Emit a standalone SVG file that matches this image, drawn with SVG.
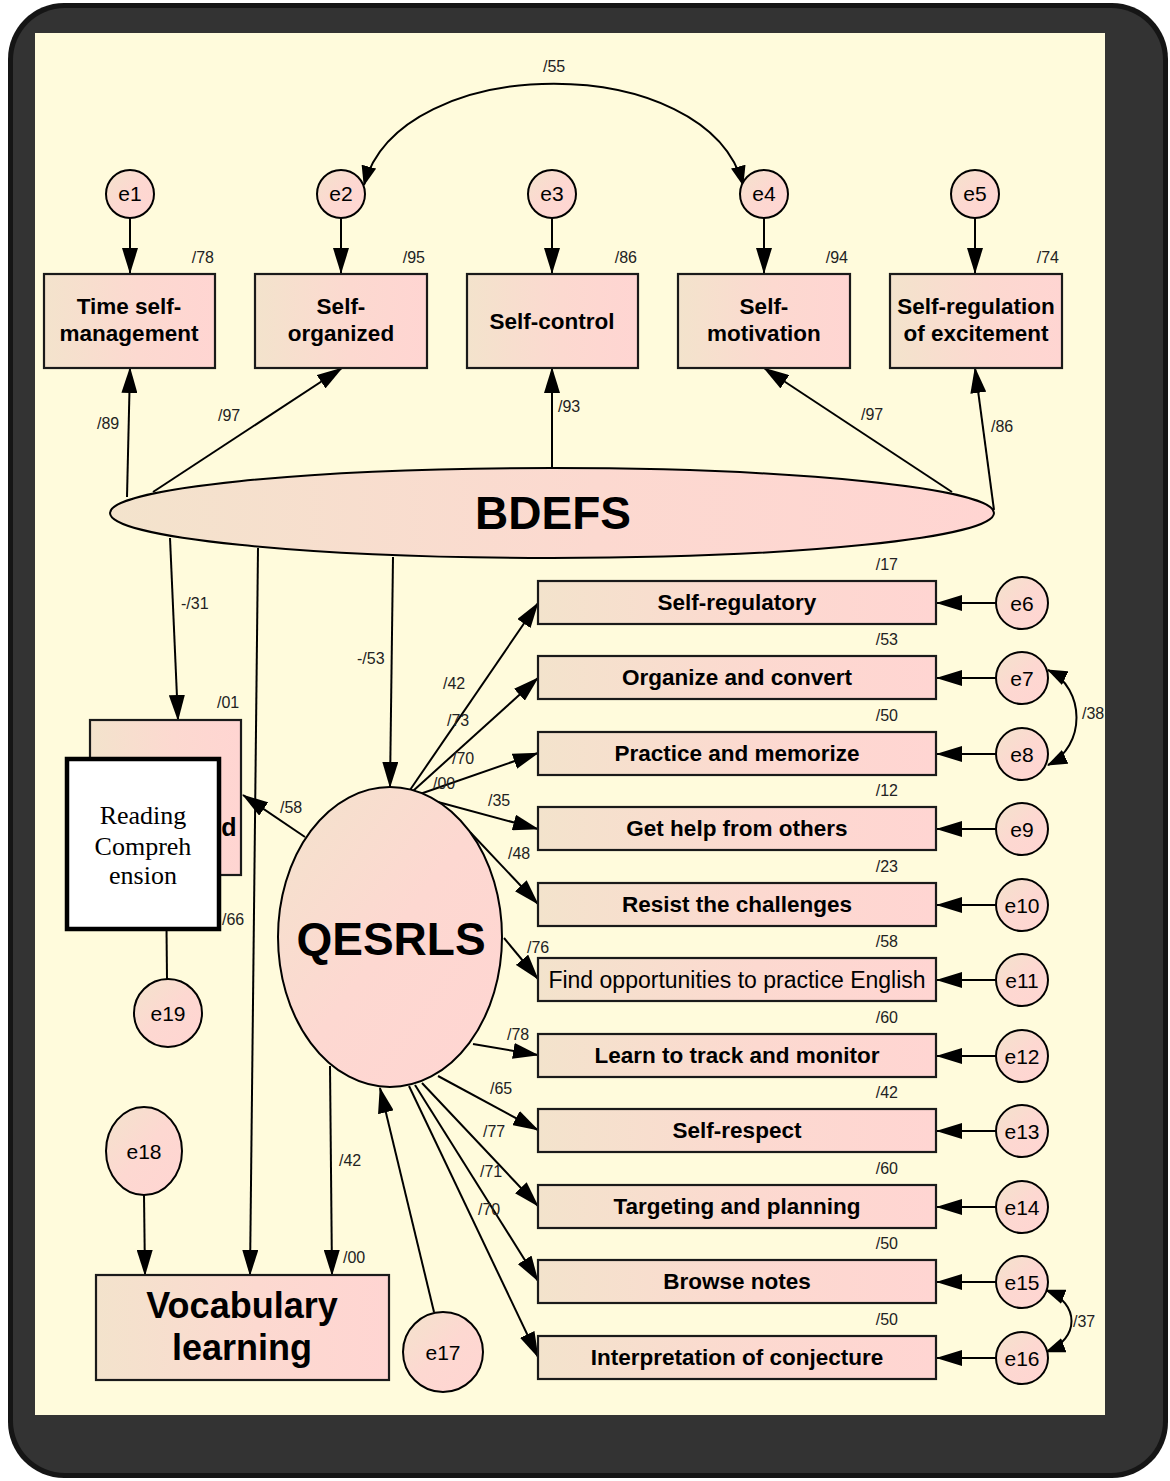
<svg xmlns="http://www.w3.org/2000/svg" width="1170" height="1481" viewBox="0 0 1170 1481">
<defs>
<style>
.ln{stroke:#000;stroke-width:2;fill:none}
.bx{fill:url(#gb);stroke:#1a1a1a;stroke-width:2.2}
.el{fill:url(#gd);stroke:#000;stroke-width:2}
.bt{font-family:"Liberation Sans",Arial,sans-serif;font-weight:bold;font-size:22.5px;fill:#000;text-anchor:middle}
.rt{font-family:"Liberation Sans",Arial,sans-serif;font-size:23px;fill:#000;text-anchor:middle}
.et{font-family:"Liberation Sans",Arial,sans-serif;font-size:21px;fill:#000;text-anchor:middle}
.lb{font-family:"Liberation Sans",Arial,sans-serif;font-size:16px;fill:#222}
.lr{font-family:"Liberation Sans",Arial,sans-serif;font-size:16px;fill:#222;text-anchor:end}
.big{font-family:"Liberation Sans",Arial,sans-serif;font-weight:bold;font-size:46px;fill:#000;text-anchor:middle}
</style>
<linearGradient id="gb" x1="0" y1="0" x2="1" y2="0">
<stop offset="0" stop-color="#f3e3cc"/><stop offset="0.55" stop-color="#fcd9d0"/><stop offset="1" stop-color="#ffd5d2"/>
</linearGradient>
<linearGradient id="gd" x1="0" y1="0" x2="1" y2="1">
<stop offset="0" stop-color="#f3e3cc"/><stop offset="0.5" stop-color="#fdd8d1"/><stop offset="1" stop-color="#ffd5d2"/>
</linearGradient>
<marker id="arr" viewBox="0 0 26 16" refX="25" refY="8" markerWidth="26" markerHeight="16" markerUnits="userSpaceOnUse" orient="auto">
<path d="M0,0 L26,8 L0,16 z" fill="#000"/>
</marker>
<marker id="arrs" viewBox="0 0 20 15" refX="19" refY="7.5" markerWidth="20" markerHeight="15" markerUnits="userSpaceOnUse" orient="auto-start-reverse">
<path d="M0,0 L20,7.5 L0,15 z" fill="#000"/>
</marker>
</defs>

<g id="frame">
<rect x="8" y="3" width="1160" height="1475" rx="56" fill="#151515"/>
<rect x="13" y="8" width="1150" height="1465" rx="52" fill="#333"/>
<rect x="35" y="33" width="1070" height="1382" fill="#fffbdc"/>
</g>

<g id="connectors">
<line class="ln" x1="130" y1="218" x2="130" y2="273" marker-end="url(#arr)"/>
<line class="ln" x1="341" y1="218" x2="341" y2="273" marker-end="url(#arr)"/>
<line class="ln" x1="552" y1="218" x2="552" y2="273" marker-end="url(#arr)"/>
<line class="ln" x1="764" y1="218" x2="764" y2="273" marker-end="url(#arr)"/>
<line class="ln" x1="975" y1="218" x2="975" y2="273" marker-end="url(#arr)"/>
<path class="ln" d="M364,185 C400,50 708,50 743,185" marker-start="url(#arrs)" marker-end="url(#arrs)"/>
<line class="ln" x1="127" y1="497" x2="130" y2="368" marker-end="url(#arr)"/>
<line class="ln" x1="153" y1="492" x2="342" y2="368" marker-end="url(#arr)"/>
<line class="ln" x1="552" y1="468" x2="552" y2="368" marker-end="url(#arr)"/>
<line class="ln" x1="952" y1="492" x2="764" y2="368" marker-end="url(#arr)"/>
<line class="ln" x1="994" y1="510" x2="975" y2="368" marker-end="url(#arr)"/>
<line class="ln" x1="170" y1="538" x2="178" y2="720" marker-end="url(#arr)"/>
<line class="ln" x1="258" y1="548" x2="250" y2="1275" marker-end="url(#arr)"/>
<line class="ln" x1="393" y1="557" x2="390" y2="787" marker-end="url(#arr)"/>
<line class="ln" x1="305" y1="837" x2="243" y2="795" marker-end="url(#arr)"/>
<line class="ln" x1="330" y1="1066" x2="332" y2="1275" marker-end="url(#arr)"/>
<line class="ln" x1="167" y1="979" x2="166" y2="876" marker-end="url(#arr)"/>
<line class="ln" x1="144" y1="1195" x2="145" y2="1275" marker-end="url(#arr)"/>
<line class="ln" x1="434" y1="1312" x2="380" y2="1088" marker-end="url(#arr)"/>
<line class="ln" x1="410" y1="790" x2="538" y2="603" marker-end="url(#arr)"/>
<line class="ln" x1="413" y1="791" x2="538" y2="678" marker-end="url(#arr)"/>
<line class="ln" x1="420" y1="794" x2="538" y2="753" marker-end="url(#arr)"/>
<line class="ln" x1="438" y1="802" x2="538" y2="829" marker-end="url(#arr)"/>
<line class="ln" x1="470" y1="832" x2="538" y2="904" marker-end="url(#arr)"/>
<line class="ln" x1="504" y1="938" x2="538" y2="979" marker-end="url(#arr)"/>
<line class="ln" x1="473" y1="1044" x2="538" y2="1055" marker-end="url(#arr)"/>
<line class="ln" x1="438" y1="1076" x2="538" y2="1130" marker-end="url(#arr)"/>
<line class="ln" x1="422" y1="1083" x2="538" y2="1206" marker-end="url(#arr)"/>
<line class="ln" x1="415" y1="1085" x2="538" y2="1281" marker-end="url(#arr)"/>
<line class="ln" x1="409" y1="1086" x2="538" y2="1357" marker-end="url(#arr)"/>
<line class="ln" x1="996" y1="603" x2="937" y2="603" marker-end="url(#arr)"/>
<line class="ln" x1="996" y1="678" x2="937" y2="678" marker-end="url(#arr)"/>
<line class="ln" x1="996" y1="754" x2="937" y2="754" marker-end="url(#arr)"/>
<line class="ln" x1="996" y1="829" x2="937" y2="829" marker-end="url(#arr)"/>
<line class="ln" x1="996" y1="905" x2="937" y2="905" marker-end="url(#arr)"/>
<line class="ln" x1="996" y1="980" x2="937" y2="980" marker-end="url(#arr)"/>
<line class="ln" x1="996" y1="1056" x2="937" y2="1056" marker-end="url(#arr)"/>
<line class="ln" x1="996" y1="1131" x2="937" y2="1131" marker-end="url(#arr)"/>
<line class="ln" x1="996" y1="1207" x2="937" y2="1207" marker-end="url(#arr)"/>
<line class="ln" x1="996" y1="1282" x2="937" y2="1282" marker-end="url(#arr)"/>
<line class="ln" x1="996" y1="1358" x2="937" y2="1358" marker-end="url(#arr)"/>
<path class="ln" d="M1048,670 C1086,688 1086,747 1048,765" marker-start="url(#arrs)" marker-end="url(#arrs)"/>
<path class="ln" d="M1046,1290 C1080,1303 1080,1339 1046,1352" marker-start="url(#arrs)" marker-end="url(#arrs)"/>
</g>

<g id="labels">
<text class="lb" x="543" y="72">/55</text>
<text class="lr" x="214" y="263">/78</text>
<text class="lr" x="425" y="263">/95</text>
<text class="lr" x="637" y="263">/86</text>
<text class="lr" x="848" y="263">/94</text>
<text class="lr" x="1059" y="263">/74</text>
<text class="lb" x="97" y="429">/89</text>
<text class="lb" x="218" y="421">/97</text>
<text class="lb" x="558" y="412">/93</text>
<text class="lb" x="861" y="420">/97</text>
<text class="lb" x="991" y="432">/86</text>
<text class="lb" x="181" y="609">-/31</text>
<text class="lb" x="357" y="664">-/53</text>
<text class="lb" x="217" y="708">/01</text>
<text class="lb" x="280" y="813">/58</text>
<text class="lb" x="222" y="925">/66</text>
<text class="lb" x="339" y="1166">/42</text>
<text class="lb" x="343" y="1263">/00</text>
<text class="lb" x="443" y="689">/42</text>
<text class="lb" x="447" y="726">/73</text>
<text class="lb" x="452" y="764">/70</text>
<text class="lb" x="433" y="789">/00</text>
<text class="lb" x="488" y="806">/35</text>
<text class="lb" x="508" y="859">/48</text>
<text class="lb" x="527" y="953">/76</text>
<text class="lb" x="507" y="1040">/78</text>
<text class="lb" x="490" y="1094">/65</text>
<text class="lb" x="483" y="1137">/77</text>
<text class="lb" x="480" y="1177">/71</text>
<text class="lb" x="478" y="1215">/70</text>
<text class="lr" x="898" y="570">/17</text>
<text class="lr" x="898" y="645">/53</text>
<text class="lr" x="898" y="721">/50</text>
<text class="lr" x="898" y="796">/12</text>
<text class="lr" x="898" y="872">/23</text>
<text class="lr" x="898" y="947">/58</text>
<text class="lr" x="898" y="1023">/60</text>
<text class="lr" x="898" y="1098">/42</text>
<text class="lr" x="898" y="1174">/60</text>
<text class="lr" x="898" y="1249">/50</text>
<text class="lr" x="898" y="1325">/50</text>
<text class="lb" x="1082" y="719">/38</text>
<text class="lb" x="1073" y="1327">/37</text>
</g>

<g id="e1"><circle class="el" cx="130" cy="194" r="24"/><text class="et" x="130" y="201">e1</text></g>
<g id="e2"><circle class="el" cx="341" cy="194" r="24"/><text class="et" x="341" y="201">e2</text></g>
<g id="e3"><circle class="el" cx="552" cy="194" r="24"/><text class="et" x="552" y="201">e3</text></g>
<g id="e4"><circle class="el" cx="764" cy="194" r="24"/><text class="et" x="764" y="201">e4</text></g>
<g id="e5"><circle class="el" cx="975" cy="194" r="24"/><text class="et" x="975" y="201">e5</text></g>

<g id="time-self-management"><rect class="bx" x="44" y="274" width="171" height="94"/><text class="bt" x="129" y="314">Time self-</text><text class="bt" x="129" y="341">management</text></g>
<g id="self-organized"><rect class="bx" x="255" y="274" width="172" height="94"/><text class="bt" x="341" y="314">Self-</text><text class="bt" x="341" y="341">organized</text></g>
<g id="self-control"><rect class="bx" x="467" y="274" width="171" height="94"/><text class="bt" x="552" y="329">Self-control</text></g>
<g id="self-motivation"><rect class="bx" x="678" y="274" width="172" height="94"/><text class="bt" x="764" y="314">Self-</text><text class="bt" x="764" y="341">motivation</text></g>
<g id="self-regulation-excitement"><rect class="bx" x="890" y="274" width="172" height="94"/><text class="bt" x="976" y="314">Self-regulation</text><text class="bt" x="976" y="341">of excitement</text></g>

<g id="bdefs"><ellipse class="el" cx="552" cy="513" rx="442" ry="45" style="fill:url(#gb)"/><text class="big" x="553" y="529">BDEFS</text></g>

<g id="reading-hidden"><rect class="bx" x="90" y="720" width="151" height="155"/><text class="bt" x="229" y="836" style="font-size:25px">d</text></g>
<g id="reading-comprehension"><rect x="67" y="759" width="152" height="170" fill="#fff" stroke="#000" stroke-width="4.5"/>
<text x="143" y="824" style="font-family:'Liberation Serif','Times New Roman',serif;font-size:26px;text-anchor:middle">Reading</text>
<text x="143" y="855" style="font-family:'Liberation Serif','Times New Roman',serif;font-size:26px;text-anchor:middle">Compreh</text>
<text x="143" y="884" style="font-family:'Liberation Serif','Times New Roman',serif;font-size:26px;text-anchor:middle">ension</text></g>

<g id="e19"><circle class="el" cx="168" cy="1013" r="34"/><text class="et" x="168" y="1021">e19</text></g>

<g id="qesrls"><ellipse class="el" cx="390" cy="937" rx="112" ry="150"/><text class="big" x="391" y="955">QESRLS</text></g>

<g id="self-regulatory"><rect class="bx" x="538" y="581" width="398" height="43"/><text class="bt" x="737" y="610">Self-regulatory</text></g>
<g id="organize-convert"><rect class="bx" x="538" y="656" width="398" height="43"/><text class="bt" x="737" y="685">Organize and convert</text></g>
<g id="practice-memorize"><rect class="bx" x="538" y="732" width="398" height="43"/><text class="bt" x="737" y="761">Practice and memorize</text></g>
<g id="get-help"><rect class="bx" x="538" y="807" width="398" height="43"/><text class="bt" x="737" y="836">Get help from others</text></g>
<g id="resist"><rect class="bx" x="538" y="883" width="398" height="43"/><text class="bt" x="737" y="912">Resist the challenges</text></g>
<g id="find-opportunities"><rect class="bx" x="538" y="958" width="398" height="43"/><text class="rt" x="737" y="988">Find opportunities to practice English</text></g>
<g id="track-monitor"><rect class="bx" x="538" y="1034" width="398" height="43"/><text class="bt" x="737" y="1063">Learn to track and monitor</text></g>
<g id="self-respect"><rect class="bx" x="538" y="1109" width="398" height="43"/><text class="bt" x="737" y="1138">Self-respect</text></g>
<g id="targeting"><rect class="bx" x="538" y="1185" width="398" height="43"/><text class="bt" x="737" y="1214">Targeting and planning</text></g>
<g id="browse-notes"><rect class="bx" x="538" y="1260" width="398" height="43"/><text class="bt" x="737" y="1289">Browse notes</text></g>
<g id="interpretation"><rect class="bx" x="538" y="1336" width="398" height="43"/><text class="bt" x="737" y="1365">Interpretation of conjecture</text></g>

<g id="e6"><circle class="el" cx="1022" cy="603" r="26"/><text class="et" x="1022" y="611">e6</text></g>
<g id="e7"><circle class="el" cx="1022" cy="678" r="26"/><text class="et" x="1022" y="686">e7</text></g>
<g id="e8"><circle class="el" cx="1022" cy="754" r="26"/><text class="et" x="1022" y="762">e8</text></g>
<g id="e9"><circle class="el" cx="1022" cy="829" r="26"/><text class="et" x="1022" y="837">e9</text></g>
<g id="e10"><circle class="el" cx="1022" cy="905" r="26"/><text class="et" x="1022" y="913">e10</text></g>
<g id="e11"><circle class="el" cx="1022" cy="980" r="26"/><text class="et" x="1022" y="988">e11</text></g>
<g id="e12"><circle class="el" cx="1022" cy="1056" r="26"/><text class="et" x="1022" y="1064">e12</text></g>
<g id="e13"><circle class="el" cx="1022" cy="1131" r="26"/><text class="et" x="1022" y="1139">e13</text></g>
<g id="e14"><circle class="el" cx="1022" cy="1207" r="26"/><text class="et" x="1022" y="1215">e14</text></g>
<g id="e15"><circle class="el" cx="1022" cy="1282" r="26"/><text class="et" x="1022" y="1290">e15</text></g>
<g id="e16"><circle class="el" cx="1022" cy="1358" r="26"/><text class="et" x="1022" y="1366">e16</text></g>

<g id="e18"><ellipse class="el" cx="144" cy="1151" rx="38" ry="44"/><text class="et" x="144" y="1159">e18</text></g>
<g id="vocabulary"><rect class="bx" x="96" y="1275" width="293" height="105"/><text class="bt" x="242" y="1318" style="font-size:36px">Vocabulary</text><text class="bt" x="242" y="1360" style="font-size:36px">learning</text></g>
<g id="e17"><circle class="el" cx="443" cy="1352" r="40"/><text class="et" x="443" y="1360">e17</text></g>
</svg>
